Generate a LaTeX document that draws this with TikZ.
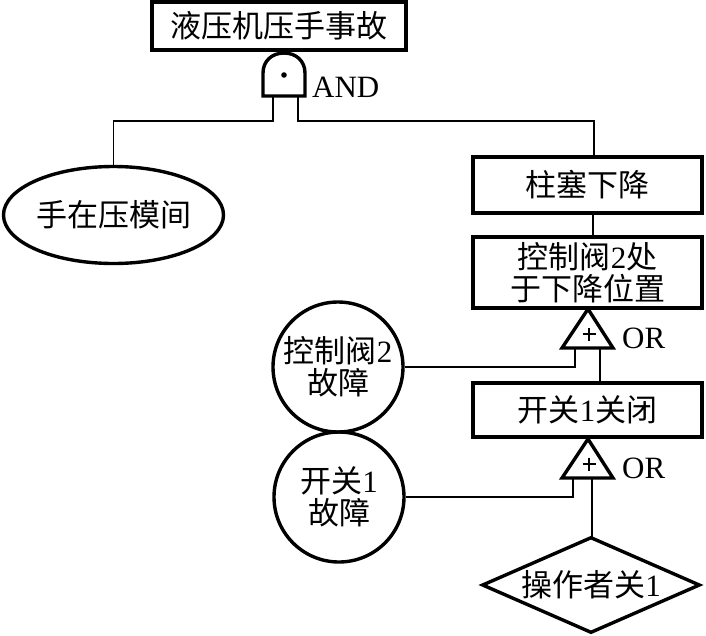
\documentclass[tikz,border=0pt]{standalone}
\usepackage{fontspec}
\setmainfont{Liberation Serif}
\newfontfamily\cjk{Noto Sans CJK SC}
\newcommand{\zh}[1]{{\cjk #1}}
\usetikzlibrary{shapes.geometric}
\begin{document}
\begin{tikzpicture}[x=1pt,y=-1pt,
  box/.style={draw, line width=3.4pt, rectangle, inner sep=0pt, txt},
  ev/.style={draw, line width=3.4pt, inner sep=0pt, txt},
  gate/.style={line width=3.4pt, line join=miter},
  plus/.style={line width=1.1pt},
  conn/.style={line width=1.8pt},
  lab/.style={font=\fontsize{31pt}{33pt}\selectfont, inner sep=0pt, anchor=base west},
  txt/.style={font=\fontsize{31pt}{32pt}\selectfont, align=center}
]
\useasboundingbox (0,0) rectangle (706,635);
\fill[white] (0,0) rectangle (706,635);

% events
\node[box, minimum width=254pt, minimum height=48pt] (top) at (279,26) {\zh{液压机压手事故}};
\node[ev, ellipse, minimum width=220pt, minimum height=97pt] (hand) at (113.5,215) {\zh{手在压模间}};
\node[box, minimum width=229pt, minimum height=56pt] (plunger) at (587.5,185) {\zh{柱塞下降}};
\node[box, minimum width=229pt, minimum height=71pt] (valve) at (587.5,272.5) {\zh{控制阀}2\zh{处}\\\zh{于下降位置}};
\node[box, minimum width=229pt, minimum height=54pt] (switch) at (587.5,410) {\zh{开关}1\zh{关闭}};
\node[ev, circle, minimum size=130pt] (vfail) at (338,367) {\zh{控制阀}2\\\zh{故障}};
\node[ev, circle, minimum size=130pt] (sfail) at (339,497) {\zh{开关}1\\\zh{故障}};
\node[ev, diamond, aspect=2.27, minimum width=218pt, minimum height=96pt] (oper) at (591,585) {\zh{操作者关}1};

% AND gate
\draw[gate] (263,96) -- (263,73) .. controls (263,61) and (272,53) .. (284,53)
  .. controls (296,53) and (305,61) .. (305,73) -- (305,96) -- cycle;
\fill (284,75) circle[radius=2.8pt];
\node[lab] (andlab) at (312,97) {AND};
\coordinate (andL) at (273,96);
\coordinate (andR) at (298,96);
\coordinate (andLm) at (273,121);
\coordinate (andRm) at (298,121);
\coordinate (plin) at (594,157);

% OR gate 1
\draw[gate] (562,348) -- (588,309) -- (613,348) -- cycle;
\draw[plus] (582.5,334) -- (595.5,334) (589,327.5) -- (589,340.5);
\node[lab] (or1lab) at (622,348) {OR};
\coordinate (g1L) at (575,348);
\coordinate (g1R) at (600,348);
\coordinate (sw1in) at (600,383);
\coordinate (plout) at (593,213);
\coordinate (vin) at (593,237);

% OR gate 2
\draw[gate] (562,478) -- (588,439) -- (613,478) -- cycle;
\draw[plus] (582.5,464) -- (595.5,464) (589,457.5) -- (589,470.5);
\node[lab] (or2lab) at (622,478) {OR};
\coordinate (g2L) at (573,478);
\coordinate (g2R) at (592,478);
\coordinate (opin) at (592,537);

% connectors
\draw[conn] (andL) -- (andLm) -| (hand.north);
\draw[conn] (andR) -- (andRm) -| (plin);
\draw[conn] (plout) -- (vin);
\draw[conn] (g1L) |- (vfail.east);
\draw[conn] (g1R) -- (sw1in);
\draw[conn] (g2L) |- (sfail.east);
\draw[conn] (g2R) -- (opin);
\end{tikzpicture}
\end{document}
